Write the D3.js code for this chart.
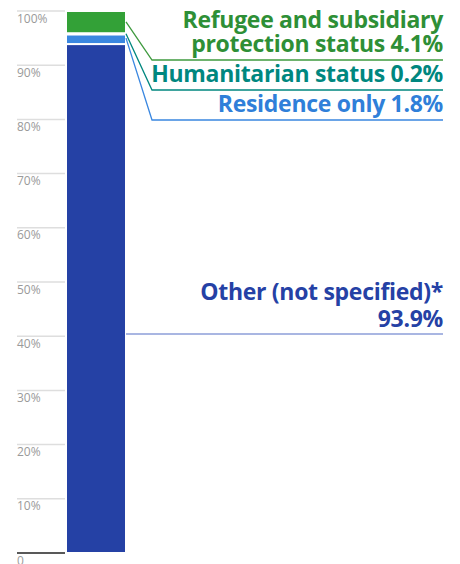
<!DOCTYPE html>
<html><head><meta charset="utf-8">
<script src="https://cdn.jsdelivr.net/npm/d3@7"></script>
<style>body{margin:0;background:#fff}</style>
</head><body>
<svg id="c" width="460" height="564"></svg>
<script>
const categories = ["Other (not specified)*", "Residence only", "Humanitarian status", "Refugee and subsidiary protection status"];
const values = [93.9, 1.8, 0.2, 4.1];
const colors = ["#2541a5", "#3a87e0", "#00877f", "#33a137"];
const textColors = ["#2541a5", "#2f7fd9", "#00877f", "#2e8f36"];
const tickValues = [0,10,20,30,40,50,60,70,80,90,100];
const tickLabels = ["0","10%","20%","30%","40%","50%","60%","70%","80%","90%","100%"];
const labelLines = [["Other (not specified)*","93.9%"],["Residence only 1.8%"],["Humanitarian status 0.2%"],["Refugee and subsidiary","protection status 4.1%"]];

const svg = d3.select("#c");
const y = d3.scaleLinear().domain([0,100]).range([553,11]);
const x = d3.scaleBand().domain(["all"]).range([66,126]).padding(0);

const g = svg.append("g");
g.selectAll("line.grid").data(tickValues).join("line")
  .attr("x1",17).attr("x2",65)
  .attr("y1",d=>y(d)).attr("y2",d=>y(d))
  .attr("stroke",d=>d===0?"#222":"#dedede").attr("stroke-width",1.5);
g.selectAll("text.tick").data(tickValues).join("text")
  .attr("x",17).attr("y",d=>y(d)+11.5)
  .attr("font-family","Open Sans, sans-serif").attr("font-size",12)
  .attr("fill","#9a9a9a").text((d,i)=>tickLabels[i]);

let acc=0;
const stack = values.map((v,i)=>{const s={i,v,y0:acc,y1:acc+v};acc+=v;return s;});
svg.selectAll("rect.seg").data(stack).join("rect")
  .attr("x",x("all")).attr("width",x.bandwidth())
  .attr("y",d=>y(d.y1)).attr("height",d=>y(d.y0)-y(d.y1))
  .attr("fill",d=>colors[d.i]).attr("stroke","#fff").attr("stroke-width",2);

const xr = x("all")+x.bandwidth();
const labelY = [334, 120, 90, 60];
const startY = [y(46.7), y(95.0), y(95.8), y(98.0)];
const leaderColors = ["#8d9ed8", "#3a87e0", "#00877f", "#3f9a3f"];
stack.forEach((d,i)=>{
  const pts = i===0 ? [[xr,labelY[i]],[443,labelY[i]]] : [[xr,startY[i]],[152,labelY[i]],[443,labelY[i]]];
  svg.append("path").attr("d",d3.line()(pts)).attr("fill","none")
    .attr("stroke",leaderColors[i]).attr("stroke-width",1.3);
});
const baselines = [[300,327],[112],[82],[28,52]];
labelLines.forEach((lines,i)=>{
  const t = svg.append("text").attr("text-anchor","end").attr("font-family","Open Sans, sans-serif")
      .attr("font-weight","bold").attr("font-size",23).attr("letter-spacing",-0.3)
      .attr("fill",textColors[i]);
  lines.forEach((s,j)=>{
    t.append("tspan").attr("x",443).attr("y",baselines[i][j]).text(s);
  });
});
</script>
</body></html>
